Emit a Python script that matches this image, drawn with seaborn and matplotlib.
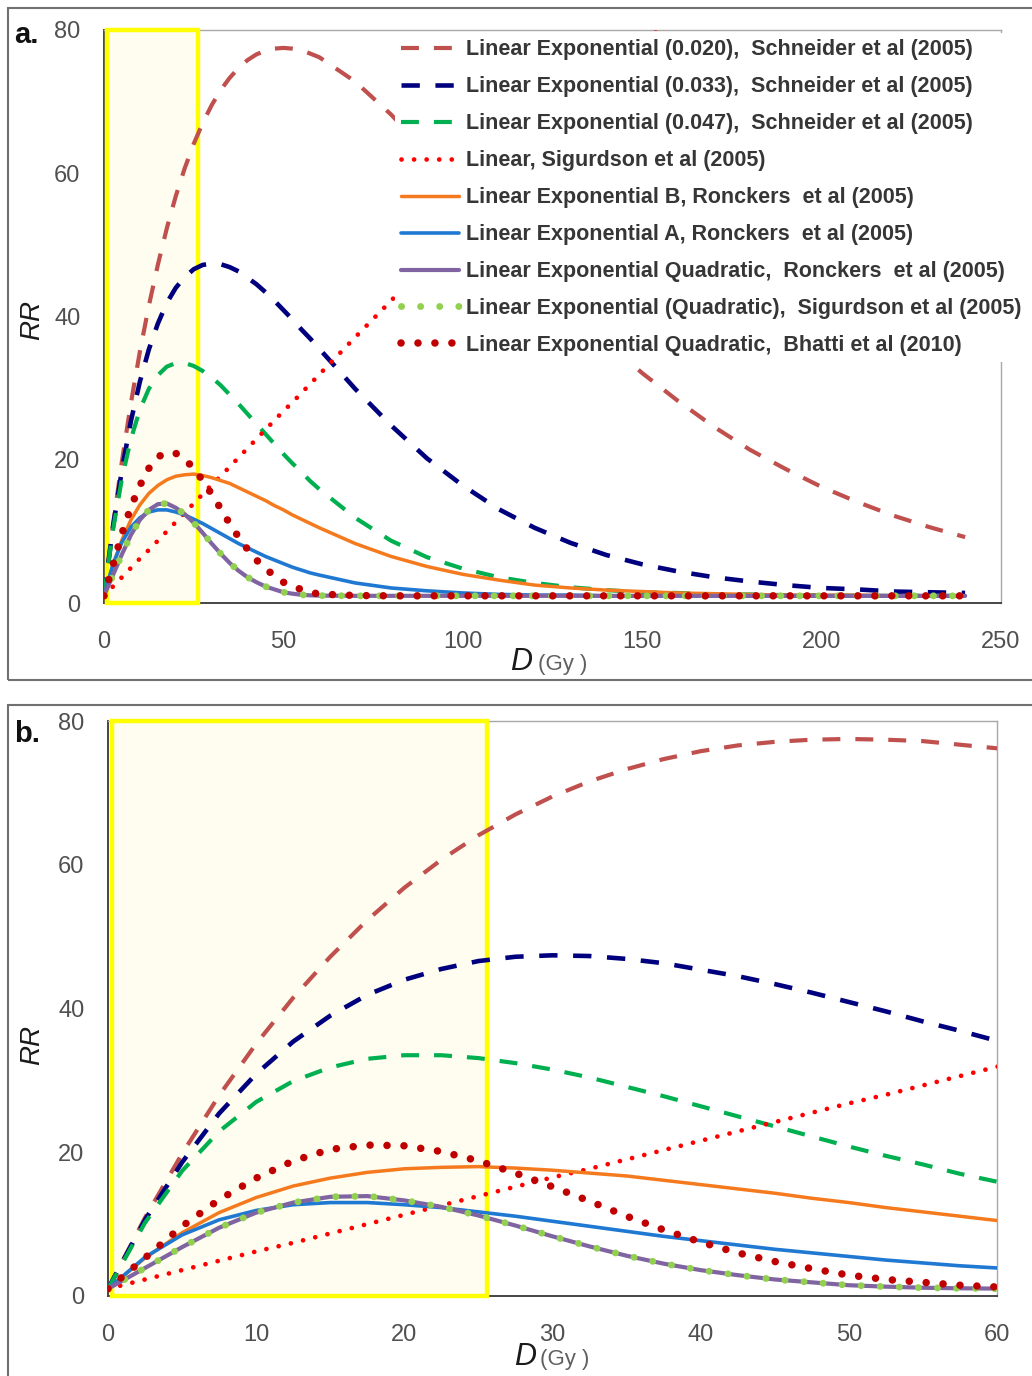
import matplotlib
matplotlib.use("Agg")
import matplotlib.pyplot as plt
from matplotlib.patches import Rectangle
from matplotlib.ticker import MultipleLocator
import pandas as pd
import seaborn as sns

# Dose grid (Gy): fine steps up to 60 Gy, coarser steps for the high-dose tail
dose_gy = [0, 2.5, 5, 7.5, 10, 12.5, 15, 17.5, 20, 22.5, 25, 27.5, 30, 32.5, 35,
           37.5, 40, 42.5, 45, 47.5, 50, 52.5, 55, 57.5, 60,
           70, 80, 90, 100, 110, 120, 130, 140, 150, 160, 170, 180, 190, 200,
           210, 220, 230, 240]

rr_schneider_020 = [1.0, 10.9, 19.8, 27.9, 35.1, 41.5, 47.2, 52.3, 56.8, 60.7, 64.1,
                    67.0, 69.5, 71.6, 73.3, 74.7, 75.8, 76.6, 77.1, 77.4, 77.5, 77.4,
                    77.2, 76.7, 76.2,
                    72.8, 68.2, 62.9, 57.3, 51.7, 46.3, 41.2, 36.4, 32.1, 28.2, 24.6,
                    21.4, 18.7, 16.2, 14.1, 12.2, 10.6, 9.2]
rr_schneider_033 = [1.0, 10.6, 18.6, 25.4, 30.9, 35.4, 39.0, 41.9, 44.0, 45.5, 46.6,
                    47.2, 47.4, 47.3, 46.9, 46.3, 45.4, 44.5, 43.4, 42.2, 40.9, 39.6,
                    38.2, 36.9, 35.5,
                    29.9, 24.8, 20.2, 16.4, 13.1, 10.5, 8.4, 6.7, 5.4, 4.4, 3.6,
                    3.0, 2.5, 2.1, 1.9, 1.6, 1.5, 1.4]
rr_schneider_047 = [1.0, 10.2, 17.4, 22.9, 27.0, 29.9, 31.8, 33.0, 33.5, 33.5, 33.1,
                    32.4, 31.5, 30.4, 29.1, 27.8, 26.4, 25.0, 23.6, 22.2, 20.8, 19.5,
                    18.3, 17.0, 15.9,
                    11.9, 8.7, 6.4, 4.8, 3.6, 2.8, 2.2, 1.8, 1.5, 1.4, 1.2,
                    1.2, 1.1, 1.1, 1.0, 1.0, 1.0, 1.0]
rr_sigurdson_linear = [1.0, 2.3, 3.6, 4.9, 6.2, 7.4, 8.7, 10.0, 11.3, 12.6, 13.9,
                       15.2, 16.5, 17.7, 19.0, 20.3, 21.6, 22.9, 24.2, 25.5, 26.8, 28.0,
                       29.3, 30.6, 31.9,
                       37.1, 42.2, 47.4, 52.5, 57.7, 62.8, 68.0, 73.1, 78.3, 83.4, 88.6,
                       93.7, 98.9, 104.0, 109.2, 114.3, 119.5, 124.6]
rr_ronckers_b = [1.0, 5.3, 8.8, 11.6, 13.7, 15.3, 16.4, 17.2, 17.7, 17.9, 18.0,
                 17.8, 17.5, 17.1, 16.7, 16.1, 15.5, 14.9, 14.3, 13.6, 13.0, 12.3,
                 11.7, 11.1, 10.5,
                 8.3, 6.5, 5.1, 4.0, 3.2, 2.5, 2.1, 1.8, 1.6, 1.4, 1.3,
                 1.2, 1.1, 1.1, 1.1, 1.0, 1.0, 1.0]
rr_ronckers_a = [1.0, 5.4, 8.5, 10.6, 11.9, 12.7, 13.0, 13.0, 12.7, 12.3, 11.7,
                 11.1, 10.4, 9.7, 9.0, 8.3, 7.7, 7.1, 6.5, 6.0, 5.5, 5.0,
                 4.6, 4.2, 3.9,
                 2.8, 2.1, 1.7, 1.4, 1.2, 1.1, 1.1, 1.0, 1.0, 1.0, 1.0,
                 1.0, 1.0, 1.0, 1.0, 1.0, 1.0, 1.0]
rr_ronckers_leq = [1.0, 3.9, 6.8, 9.5, 11.6, 13.0, 13.8, 13.9, 13.3, 12.4, 11.2,
                   9.8, 8.3, 6.9, 5.6, 4.5, 3.6, 2.9, 2.3, 1.9, 1.5, 1.3,
                   1.15, 1.07, 1.03,
                   1.0, 1.0, 1.0, 1.0, 1.0, 1.0, 1.0, 1.0, 1.0, 1.0, 1.0,
                   1.0, 1.0, 1.0, 1.0, 1.0, 1.0, 1.0]
rr_sigurdson_leq = [1.0, 3.9, 6.8, 9.5, 11.6, 13.0, 13.8, 13.9, 13.3, 12.4, 11.2,
                    9.8, 8.3, 6.9, 5.6, 4.5, 3.6, 2.9, 2.3, 1.9, 1.5, 1.3,
                    1.15, 1.07, 1.03,
                    1.0, 1.0, 1.0, 1.0, 1.0, 1.0, 1.0, 1.0, 1.0, 1.0, 1.0,
                    1.0, 1.0, 1.0, 1.0, 1.0, 1.0, 1.0]
rr_bhatti_leq = [1.0, 5.3, 9.7, 13.4, 16.4, 18.8, 20.4, 21.0, 20.9, 20.1, 18.8,
                 17.1, 15.2, 13.2, 11.1, 9.2, 7.5, 6.0, 4.8, 3.8, 2.9, 2.3,
                 1.9, 1.5, 1.25,
                 1.05, 1.0, 1.0, 1.0, 1.0, 1.0, 1.0, 1.0, 1.0, 1.0, 1.0,
                 1.0, 1.0, 1.0, 1.0, 1.0, 1.0, 1.0]

model_labels = [
    "Linear Exponential (0.020),  Schneider et al (2005)",
    "Linear Exponential (0.033),  Schneider et al (2005)",
    "Linear Exponential (0.047),  Schneider et al (2005)",
    "Linear, Sigurdson et al (2005)",
    "Linear Exponential B, Ronckers  et al (2005)",
    "Linear Exponential A, Ronckers  et al (2005)",
    "Linear Exponential Quadratic,  Ronckers  et al (2005)",
    "Linear Exponential (Quadratic),  Sigurdson et al (2005)",
    "Linear Exponential Quadratic,  Bhatti et al (2010)",
]

df = pd.DataFrame({
    "dose": dose_gy,
    "s020": rr_schneider_020,
    "s033": rr_schneider_033,
    "s047": rr_schneider_047,
    "slin": rr_sigurdson_linear,
    "rb": rr_ronckers_b,
    "ra": rr_ronckers_a,
    "rleq": rr_ronckers_leq,
    "sleq": rr_sigurdson_leq,
    "bleq": rr_bhatti_leq,
})
columns = ["s020", "s033", "s047", "slin", "rb", "ra", "rleq", "sleq", "bleq"]

line_styles = [
    dict(color="#C0504D", linewidth=3.0, linestyle=(0, (4.3, 3.6))),
    dict(color="#00007F", linewidth=3.3, linestyle=(0, (4.0, 3.4))),
    dict(color="#00B050", linewidth=3.0, linestyle=(0, (4.3, 3.6))),
    dict(color="#FF0000", linewidth=3.4, linestyle=(0, (0.01, 2.65)), dash_capstyle="round"),
    dict(color="#F57A1E", linewidth=2.5, linestyle="-"),
    dict(color="#1F78D1", linewidth=2.6, linestyle="-"),
    dict(color="#8064A2", linewidth=3.0, linestyle="-"),
    dict(color="#92D050", linewidth=5.0, linestyle=(0, (0.01, 2.74)), dash_capstyle="round"),
    dict(color="#C00000", linewidth=5.4, linestyle=(0, (0.01, 2.25)), dash_capstyle="round"),
]

sns.set_style("white")
plt.rcParams["font.family"] = ["Liberation Sans", "DejaVu Sans"]

W, H = 1032, 1376
fig = plt.figure(figsize=(W / 100, H / 100), dpi=100)


def axes_px(left, top, right, bottom):
    return fig.add_axes([left / W, 1 - bottom / H, (right - left) / W, (bottom - top) / H])


def frame_px(left, top, right, bottom):
    fig.add_artist(Rectangle((left / W, 1 - bottom / H), (right - left) / W, (bottom - top) / H,
                             transform=fig.transFigure, fill=False,
                             edgecolor="#707070", linewidth=1.5))


frame_px(8, 8, 1045, 680)
frame_px(8, 705, 1045, 1390)

ax_a = axes_px(104, 30, 1001, 603)
ax_b = axes_px(108, 721, 997, 1296)

dark = "#454545"
light = "#A8A8A8"

for ax, xmax, xmaj, xmin, box in ((ax_a, 250, 50, 10, (0.8, 26.2)),
                                  (ax_b, 60, 10, 2, (0.3, 25.6))):
    for col, lab, st in zip(columns, model_labels, line_styles):
        sns.lineplot(data=df, x="dose", y=col, ax=ax, errorbar=None,
                     label=lab if ax is ax_a else None, zorder=3, **st)
    ax.add_patch(Rectangle((box[0], 0), box[1] - box[0], 80, facecolor="#FEFDEF",
                           edgecolor="#FFFF00", linewidth=3.2, zorder=2.6, clip_on=False))
    ax.set_xlim(0, xmax)
    ax.set_ylim(0, 80)
    ax.xaxis.set_major_locator(MultipleLocator(xmaj))
    ax.xaxis.set_minor_locator(MultipleLocator(xmin))
    ax.yaxis.set_major_locator(MultipleLocator(20))
    ax.yaxis.set_minor_locator(MultipleLocator(10))
    ax.set_xlabel("")
    ax.set_ylabel("")
    for side in ("left", "bottom"):
        ax.spines[side].set_color(dark)
        ax.spines[side].set_linewidth(1.4)
    for side in ("top", "right"):
        ax.spines[side].set_color(light)
        ax.spines[side].set_linewidth(1.0)
    ax.tick_params(axis="both", which="both", direction="out", color=dark, width=1.2,
                   labelsize=17, labelcolor="#505050")
    ax.tick_params(axis="both", which="major", length=7)
    ax.tick_params(axis="both", which="minor", length=5.5)
    ax.tick_params(axis="y", which="major", pad=10)
    ax.tick_params(axis="x", which="major", pad=13)
    leg = ax.get_legend()
    if leg is not None:
        leg.remove()

handles, labels = ax_a.get_legend_handles_labels()
legend = ax_a.legend(handles, labels, loc="upper left",
                     bbox_to_anchor=(395 / W, 1 - 33 / H), bbox_transform=fig.transFigure,
                     borderaxespad=0, borderpad=0.3, frameon=True, fancybox=False,
                     framealpha=1, facecolor="white", edgecolor="none",
                     handlelength=2.65, handletextpad=0.33, labelspacing=0.74,
                     prop=dict(family="Liberation Sans", weight="bold", size=15.5))
for txt in legend.get_texts():
    txt.set_color("#363636")
legend.set_zorder(6)

# Axis titles and panel tags
for ylab_y, d_x, d_y, gy_x in ((320, 510, 670, 538), (1045, 514, 1365, 540)):
    fig.text(32 / W, 1 - ylab_y / H, "RR", rotation=90, ha="center", va="center",
             fontsize=20, style="italic", color="#1A1A1A")
    fig.text(d_x / W, 1 - d_y / H, "D", ha="left", va="baseline",
             fontsize=22, style="italic", color="#1A1A1A")
    fig.text(gy_x / W, 1 - d_y / H, "(Gy )", ha="left", va="baseline",
             fontsize=16, color="#606060")

fig.text(14 / W, 1 - 43 / H, "a.", ha="left", va="baseline", fontsize=21,
         fontweight="bold", color="#111111")
fig.text(14 / W, 1 - 742 / H, "b.", ha="left", va="baseline", fontsize=21,
         fontweight="bold", color="#111111")

fig.savefig("out.png", dpi=100, facecolor="white")
